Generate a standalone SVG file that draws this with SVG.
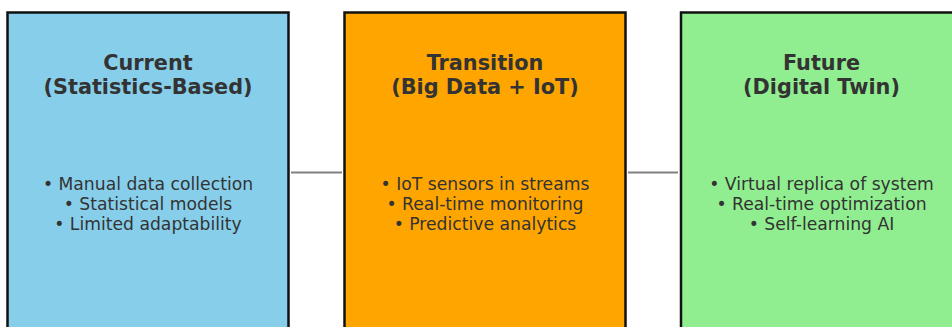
<svg xmlns="http://www.w3.org/2000/svg" width="952" height="327" viewBox="0 0 952 327">
<style>
.box{stroke:#111;stroke-width:2.5}
.title{font-family:"DejaVu Sans",sans-serif;font-weight:bold;font-size:20.8px;fill:#333;text-anchor:middle}
.item{font-family:"DejaVu Sans",sans-serif;font-size:17.2px;fill:#333;text-anchor:middle}
.conn{stroke:#808080;stroke-width:2;fill:none}
</style>
<rect width="952" height="327" fill="#fff"/>
<g id="connectors">
<line class="conn" x1="291" y1="172.5" x2="342" y2="172.5"/>
<line class="conn" x1="628" y1="172.5" x2="678" y2="172.5"/>
</g>
<g id="current">
<rect class="box" x="7.5" y="12.5" width="281" height="330" fill="#87CEEB"/>
<text class="title" x="148" y="70">Current</text>
<text class="title" x="148" y="94">(Statistics-Based)</text>
<text class="item" x="148" y="190">• Manual data collection</text>
<text class="item" x="148" y="210">• Statistical models</text>
<text class="item" x="148" y="230">• Limited adaptability</text>
</g>
<g id="transition">
<rect class="box" x="344.5" y="12.5" width="281" height="330" fill="#FFA500"/>
<text class="title" x="485" y="70">Transition</text>
<text class="title" x="485" y="94">(Big Data + IoT)</text>
<text class="item" x="485" y="190">• IoT sensors in streams</text>
<text class="item" x="485" y="210">• Real-time monitoring</text>
<text class="item" x="485" y="230">• Predictive analytics</text>
</g>
<g id="future">
<rect class="box" x="681" y="12.5" width="281" height="330" fill="#90EE90"/>
<text class="title" x="821.5" y="70">Future</text>
<text class="title" x="821.5" y="94">(Digital Twin)</text>
<text class="item" x="821.5" y="190">• Virtual replica of system</text>
<text class="item" x="821.5" y="210">• Real-time optimization</text>
<text class="item" x="821.5" y="230">• Self-learning AI</text>
</g>
</svg>
